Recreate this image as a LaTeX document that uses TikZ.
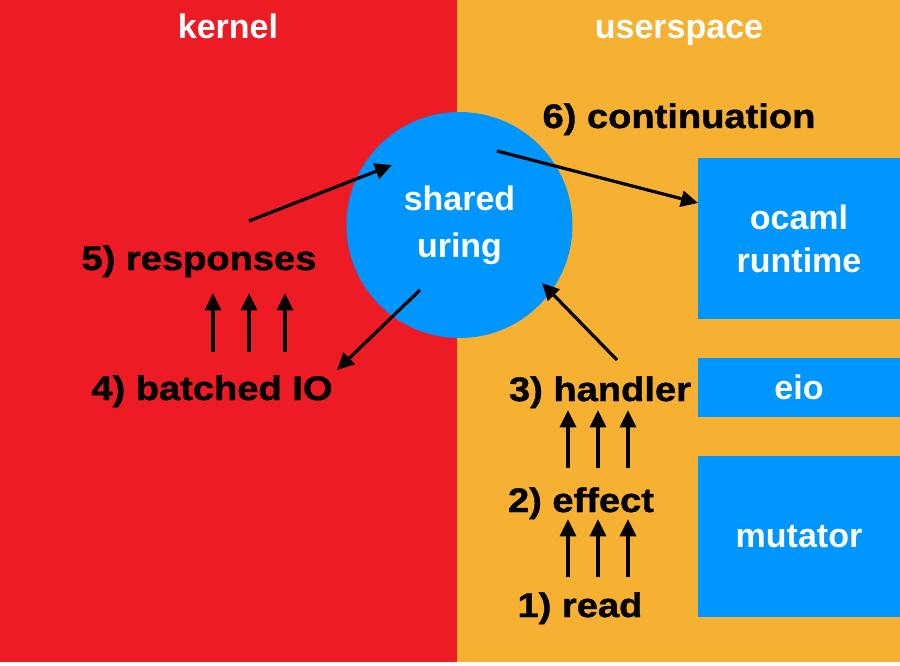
\documentclass[tikz,border=0pt]{standalone}
\usepackage{fontspec}
\setmainfont{Liberation Sans}
\newfontfamily\labelfont{Liberation Sans}[FakeStretch=1.12, BoldFeatures={FakeBold=1.2}]
\usepackage{tikz}
\usetikzlibrary{arrows.meta, positioning, calc}

\definecolor{kernelred}{HTML}{ED1C24}
\definecolor{userorange}{HTML}{F6B133}
\definecolor{ringblue}{HTML}{0096FF}

\begin{document}
\begin{tikzpicture}[
    x=1pt, y=-1pt,
    region/.style={text=white, font=\fontsize{34}{40}\selectfont\bfseries, anchor=base, inner sep=0pt},
    stage/.style={font=\labelfont\fontsize{34}{40}\selectfont\bfseries, anchor=base, inner sep=0pt},
    ring/.style={circle, fill=ringblue, minimum size=226pt, inner sep=0pt, align=center, text=white, font=\fontsize{34}{47}\selectfont\bfseries},
    block/.style={rectangle, fill=ringblue, minimum width=202pt, inner sep=0pt, align=center, text=white, font=\fontsize{34}{43}\selectfont\bfseries},
    arrow/.style={-{Triangle[length=17pt, width=16pt]}, line width=3.2pt}
]
    % Background halves
    \fill[white] (0,0) rectangle (900,666);
    \fill[kernelred] (0,0) rectangle (457,662);
    \fill[userorange] (457,0) rectangle (900,662);
    \useasboundingbox (0,0) rectangle (900,666);

    \node[region] (kernel) at (228,39) {kernel};
    \node[region] (userspace) at (679,39) {userspace};
    \node[stage] (cont) at (679,128) {6) continuation};

    % Shared ring and userspace blocks
    \node[ring] (uring) at (459.5,225) {shared\\uring};
    \node[block, minimum height=161pt] (ocaml) at (799,238.5) {ocaml\\runtime};
    \node[block, minimum height=59pt] (eio) at (799,387.5) {eio};
    \node[block, minimum height=161pt] (mutator) at (799,536.5) {mutator};

    % Stages
    \node[stage] (resp) at (199,270) {5) responses};
    \node[stage] (batch) at (212,400) {4) batched IO};
    \node[stage] (handler) at (600,401) {3) handler};
    \node[stage] (effect) at (581,512) {2) effect};
    \node[stage] (read) at (580,617) {1) read};

    \foreach \x in {213,249,285}
        \draw[arrow, shorten <=23pt, shorten >=16pt] (batch.north -| \x,0) -- (resp.south -| \x,0);
    \foreach \x in {568,598,628} {
        \draw[arrow, shorten <=19pt, shorten >=2pt] (effect.north -| \x,0) -- (handler.south -| \x,0);
        \draw[arrow, shorten <=15pt] (read.north -| \x,0) -- (effect.south -| \x,0);
    }

    % Ring in and out
    \coordinate (resp-tail) at (249,221);
    \coordinate (uring-nw) at (392,165);
    \coordinate (uring-sw) at (420,290);
    \coordinate (batch-head) at (337,370);
    \coordinate (handler-tail) at (617,360);
    \coordinate (uring-se) at (542,283);
    \coordinate (uring-ne) at (497,151);
    \coordinate (ocaml-in) at (698,203);

    \draw[arrow] (resp-tail) -- (uring-nw);
    \draw[arrow] (uring-sw) -- (batch-head);
    \draw[arrow] (handler-tail) -- (uring-se);
    \draw[arrow] (uring-ne) -- (ocaml-in);
\end{tikzpicture}
\end{document}
